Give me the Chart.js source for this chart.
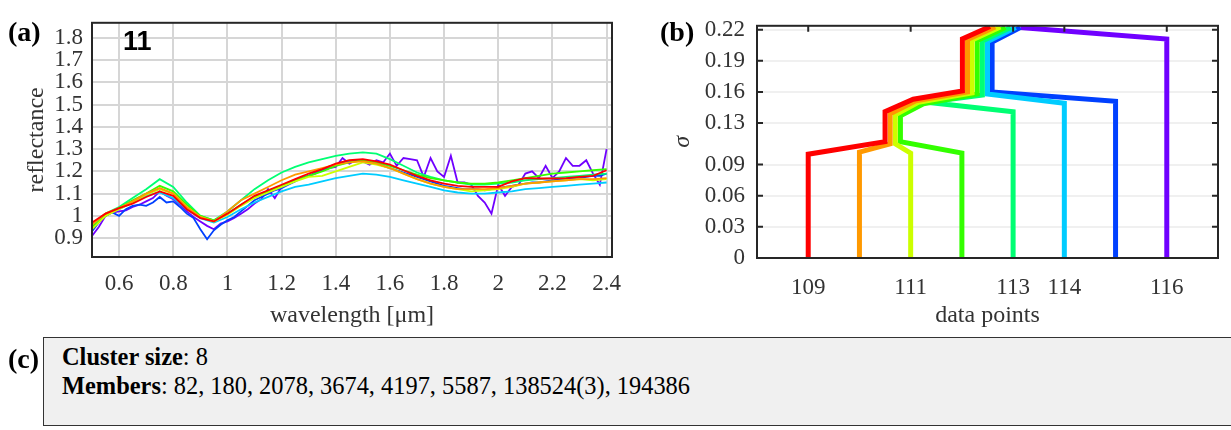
<!DOCTYPE html>
<html>
<head>
<meta charset="utf-8">
<script src="https://cdn.jsdelivr.net/npm/chart.js@4.4.1/dist/chart.umd.min.js"></script>
<style>
  body { margin: 0; background: #fff; width: 1231px; height: 430px; overflow: hidden; position: relative; font-family: "Liberation Serif", "Times New Roman", serif; }
  #wrapA { position: absolute; left: 0; top: 0; }
  #wrapB { position: absolute; left: 640px; top: 0; }
  .tag { position: absolute; font-weight: bold; font-size: 28px; line-height: 28px; color: #000; }
  #cid { position: absolute; left: 123px; top: 26px; font: bold 27px "Liberation Sans", Arial, sans-serif; color: #000; }
  #info { position: absolute; left: 43px; top: 337px; width: 1200px; height: 89px; background: #f0f0f0; border: 1.5px solid #333; box-sizing: border-box; padding: 4px 0 0 18px; font-size: 24.4px; line-height: 29px; color: #000; }
</style>
</head>
<body>
<div id="wrapA"><canvas id="specChart" width="640" height="330"></canvas></div>
<div id="wrapB"><canvas id="treeChart" width="591" height="330"></canvas></div>
<div class="tag" style="left:8px;top:18px">(a)</div>
<div class="tag" style="left:660px;top:18px">(b)</div>
<div class="tag" style="left:8px;top:345px">(c)</div>
<div id="cid"></div>
<div id="info"><div id="line1"></div><div id="line2"></div></div>
<script>
// ---- cluster info ----
const clusterId = 11;
const members = ["82", "180", "2078", "3674", "4197", "5587", "138524(3)", "194386"];

// ---- spectra: wavelength grids (µm) ----
const wl = [0.5, 0.55, 0.6, 0.65, 0.7, 0.75, 0.8, 0.85, 0.9, 0.95, 1.0, 1.05, 1.1, 1.15, 1.2, 1.25, 1.3, 1.35, 1.4, 1.45,
  1.5, 1.55, 1.6, 1.65, 1.7, 1.75, 1.8, 1.85, 1.9, 1.95, 2.0, 2.05, 2.1, 2.15, 2.2, 2.25, 2.3, 2.35, 2.4];
const wlFine = [0.5, 0.525, 0.55, 0.575, 0.6, 0.625, 0.65, 0.675, 0.7, 0.725, 0.75, 0.775, 0.8, 0.825, 0.85, 0.875,
  0.9, 0.925, 0.95, 0.975, 1.0, 1.025, 1.05, 1.075, 1.1, 1.125, 1.15, 1.175, 1.2, 1.225, 1.25, 1.275, 1.3, 1.325,
  1.35, 1.375, 1.4, 1.425, 1.45, 1.475, 1.5, 1.525, 1.55, 1.575, 1.6, 1.625, 1.65, 1.675, 1.7, 1.725, 1.75, 1.775,
  1.8, 1.825, 1.85, 1.875, 1.9, 1.925, 1.95, 1.975, 2.0, 2.025, 2.05, 2.075, 2.1, 2.125, 2.15, 2.175, 2.2, 2.225,
  2.25, 2.275, 2.3, 2.325, 2.35, 2.375, 2.4];

// reflectance of each member (normalised)
const specRed = [0.97, 1.01, 1.035, 1.055, 1.085, 1.11, 1.09, 1.03, 0.99, 0.975, 1.01, 1.05, 1.09, 1.115, 1.14, 1.165, 1.19, 1.21, 1.235, 1.25,
  1.255, 1.245, 1.23, 1.205, 1.18, 1.16, 1.145, 1.135, 1.13, 1.13, 1.13, 1.155, 1.17, 1.168, 1.168, 1.17, 1.175, 1.18, 1.205];
const specOrange = [0.96, 1.01, 1.035, 1.065, 1.1, 1.125, 1.1, 1.04, 0.995, 0.975, 1.02, 1.07, 1.1, 1.13, 1.16, 1.185, 1.2, 1.215, 1.23, 1.24,
  1.245, 1.235, 1.215, 1.19, 1.165, 1.145, 1.13, 1.12, 1.12, 1.12, 1.125, 1.135, 1.145, 1.15, 1.155, 1.16, 1.165, 1.165, 1.17];
const specYellow = [0.94, 1.0, 1.03, 1.06, 1.095, 1.12, 1.1, 1.04, 0.995, 0.975, 1.005, 1.045, 1.08, 1.105, 1.13, 1.155, 1.175, 1.18, 1.2, 1.22,
  1.24, 1.23, 1.215, 1.19, 1.165, 1.145, 1.13, 1.12, 1.11, 1.115, 1.12, 1.13, 1.145, 1.15, 1.155, 1.16, 1.165, 1.16, 1.165];
const specGreen = [0.95, 1.0, 1.035, 1.07, 1.1, 1.135, 1.11, 1.05, 1.0, 0.98, 1.01, 1.05, 1.085, 1.11, 1.135, 1.16, 1.18, 1.2, 1.225, 1.24,
  1.25, 1.24, 1.225, 1.205, 1.185, 1.17, 1.16, 1.15, 1.145, 1.145, 1.15, 1.16, 1.17, 1.18, 1.19, 1.195, 1.2, 1.205, 1.21];
const specMint = [0.96, 1.01, 1.04, 1.08, 1.12, 1.165, 1.13, 1.06, 1.0, 0.98, 1.02, 1.07, 1.12, 1.16, 1.195, 1.22, 1.24, 1.255, 1.27, 1.28,
  1.285, 1.28, 1.255, 1.225, 1.195, 1.175, 1.16, 1.15, 1.14, 1.14, 1.145, 1.15, 1.16, 1.165, 1.17, 1.175, 1.18, 1.185, 1.19];
const specCyan = [0.96, 1.005, 1.03, 1.06, 1.09, 1.105, 1.08, 1.03, 0.99, 0.97, 0.995, 1.03, 1.06, 1.085, 1.11, 1.13, 1.14, 1.155, 1.17, 1.18,
  1.19, 1.185, 1.175, 1.16, 1.145, 1.13, 1.115, 1.105, 1.1, 1.1, 1.105, 1.11, 1.12, 1.125, 1.13, 1.135, 1.14, 1.145, 1.15];
const specBlue = [0.93, 0.97, 1.005, 1.015, 1.0, 1.03, 1.045, 1.05, 1.045, 1.06, 1.085, 1.06, 1.065, 1.04, 1.01, 0.99,
  0.94, 0.895, 0.935, 0.96, 0.98, 0.995, 1.02, 1.045, 1.07, 1.085, 1.1, 1.115, 1.125, 1.14, 1.155, 1.17, 1.18, 1.195,
  1.21, 1.22, 1.23, 1.24, 1.245, 1.25, 1.245, 1.24, 1.235, 1.225, 1.215, 1.205, 1.195, 1.185, 1.175, 1.165, 1.155, 1.145,
  1.135, 1.13, 1.125, 1.12, 1.12, 1.12, 1.115, 1.12, 1.125, 1.13, 1.135, 1.14, 1.145, 1.15, 1.15, 1.155, 1.16, 1.165,
  1.165, 1.17, 1.17, 1.175, 1.18, 1.18, 1.19];
const specPurple = [0.91, 0.95, 1.0, 1.015, 1.02, 1.025, 1.04, 1.05, 1.065, 1.08, 1.11, 1.09, 1.075, 1.05, 1.02, 0.995,
  0.975, 0.955, 0.94, 0.965, 0.975, 0.99, 1.01, 1.03, 1.055, 1.075, 1.12, 1.08, 1.13, 1.15, 1.16, 1.17, 1.18, 1.19,
  1.205, 1.215, 1.22, 1.26, 1.235, 1.25, 1.245, 1.23, 1.25, 1.24, 1.28, 1.225, 1.26, 1.255, 1.25, 1.175, 1.26, 1.2,
  1.175, 1.27, 1.15, 1.15, 1.14, 1.09, 1.06, 1.01, 1.14, 1.09, 1.13, 1.14, 1.19, 1.2, 1.17, 1.225, 1.17, 1.2,
  1.26, 1.225, 1.225, 1.25, 1.19, 1.14, 1.3];

const xTicksA = [0.6, 0.8, 1, 1.2, 1.4, 1.6, 1.8, 2, 2.2, 2.4];
const yTicksA = [0.9, 1, 1.1, 1.2, 1.3, 1.4, 1.5, 1.6, 1.7, 1.8];

// ---- dendrogram: path of every leaf up to the root, as [data point, sigma] ----
const leafRed = [[109, 0], [109, 0.100], [110.50, 0.112], [110.50, 0.141], [111.05, 0.153], [112.01, 0.161], [112.01, 0.211], [112.55, 0.223]];
const leafOrange = [[110, 0], [110, 0.102], [110.60, 0.110], [110.60, 0.139], [111.10, 0.1515], [112.11, 0.160], [112.11, 0.2105], [112.65, 0.2225]];
const leafYellow = [[111, 0], [111, 0.101], [110.70, 0.110], [110.70, 0.138], [111.15, 0.150], [112.20, 0.159], [112.20, 0.210], [112.75, 0.2225]];
const leafGreen = [[112, 0], [112, 0.101], [110.80, 0.112], [110.80, 0.137], [111.25, 0.1485], [112.30, 0.158], [112.30, 0.2095], [112.85, 0.222]];
const leafMint = [[113, 0], [113, 0.141], [111.32, 0.150], [112.40, 0.157], [112.40, 0.209], [112.95, 0.222]];
const leafCyan = [[114, 0], [114, 0.149], [112.50, 0.158], [112.50, 0.2085], [113.05, 0.222]];
const leafBlue = [[115, 0], [115, 0.151], [112.59, 0.160], [112.59, 0.208], [113.14, 0.222]];
const leafPurple = [[116, 0], [116, 0.211], [113.14, 0.222]];

const xTicksB = [109, 111, 113, 114, 116];
const yTicksB = [0, 0.03, 0.06, 0.09, 0.13, 0.16, 0.19, 0.22];

const colors = {
  red: "#ff0000", orange: "#ff9900", yellow: "#ccff00", green: "#33ff00",
  mint: "#00ff73", cyan: "#00ccff", blue: "#0040ff", purple: "#7000ff"
};

const serif = "'Liberation Serif', 'Times New Roman', serif";
const inkColor = "#333";

document.getElementById("cid").textContent = clusterId;
document.getElementById("line1").innerHTML = "<b>Cluster size</b>: " + members.length;
document.getElementById("line2").innerHTML = "<b>Members</b>: " + members.join(", ");

// box round the plot area, plus MATLAB style inward ticks
function frameBox(inTicks) {
  return {
    id: "frameBox",
    afterDraw(chart) {
      const { ctx, chartArea: a, scales } = chart;
      ctx.save();
      ctx.strokeStyle = "#262626";
      ctx.lineWidth = 2;
      if (inTicks) {
        ctx.beginPath();
        scales.y.ticks.forEach(t => {
          const py = scales.y.getPixelForValue(t.value);
          ctx.moveTo(a.left, py); ctx.lineTo(a.left + 6, py);
          ctx.moveTo(a.right, py); ctx.lineTo(a.right - 6, py);
        });
        scales.x.ticks.forEach(t => {
          const px = scales.x.getPixelForValue(t.value);
          ctx.moveTo(px, a.top); ctx.lineTo(px, a.top + 6);
        });
        ctx.stroke();
      }
      ctx.strokeRect(a.left, a.top, a.right - a.left, a.bottom - a.top);
      ctx.restore();
    }
  };
}

function toPoints(xs, ys) {
  return xs.map((x, i) => ({ x: x, y: ys[i] }));
}

// ---- (a) spectra ----
const spectra = [
  { data: toPoints(wl, specRed), c: colors.red },
  { data: toPoints(wl, specOrange), c: colors.orange },
  { data: toPoints(wl, specYellow), c: colors.yellow },
  { data: toPoints(wl, specGreen), c: colors.green },
  { data: toPoints(wl, specMint), c: colors.mint },
  { data: toPoints(wl, specCyan), c: colors.cyan },
  { data: toPoints(wlFine, specBlue), c: colors.blue },
  { data: toPoints(wlFine, specPurple), c: colors.purple }
];

new Chart(document.getElementById("specChart").getContext("2d"), {
  type: "line",
  data: {
    datasets: spectra.map(s => ({
      data: s.data,
      borderColor: s.c,
      borderWidth: 1.8,
      pointRadius: 0,
      tension: 0,
      fill: false
    }))
  },
  options: {
    responsive: false,
    animation: false,
    layout: { padding: { left: 0, right: 28, top: 7, bottom: 0 } },
    plugins: { legend: { display: false }, tooltip: { enabled: false } },
    scales: {
      x: {
        type: "linear",
        min: 0.5,
        max: 2.42,
        afterBuildTicks: s => { s.ticks = xTicksA.map(v => ({ value: v })); },
        afterFit: s => { s.height = 73; },
        grid: { color: "#d6d6d6", lineWidth: 2, drawTicks: false },
        border: { display: false },
        ticks: { font: { family: serif, size: 23 }, color: inkColor, padding: 13, maxRotation: 0, autoSkip: false, callback: v => String(v) },
        title: { display: true, text: "wavelength [μm]", font: { family: serif, size: 24 }, color: inkColor, padding: { top: 4, bottom: 0 } }
      },
      y: {
        min: 0.815,
        max: 1.868,
        afterBuildTicks: s => { s.ticks = yTicksA.map(v => ({ value: v })); },
        afterFit: s => { s.width = 92; },
        grid: { color: "#d6d6d6", lineWidth: 2, drawTicks: false },
        border: { display: false },
        ticks: { font: { family: serif, size: 23 }, color: inkColor, padding: 9, autoSkip: false, callback: v => String(v) },
        title: { display: true, text: "reflectance", font: { family: serif, size: 24 }, color: inkColor, padding: { top: 22, bottom: 0 } }
      }
    }
  },
  plugins: [frameBox(false)]
});

// ---- (b) dendrogram ----
const leaves = [
  { path: leafRed, c: colors.red },
  { path: leafOrange, c: colors.orange },
  { path: leafYellow, c: colors.yellow },
  { path: leafGreen, c: colors.green },
  { path: leafMint, c: colors.mint },
  { path: leafCyan, c: colors.cyan },
  { path: leafBlue, c: colors.blue },
  { path: leafPurple, c: colors.purple }
];

new Chart(document.getElementById("treeChart").getContext("2d"), {
  type: "scatter",
  data: {
    datasets: leaves.map(l => ({
      data: l.path.map(p => ({ x: p[0], y: p[1] })),
      borderColor: l.c,
      borderWidth: 5,
      borderJoinStyle: "miter",
      showLine: true,
      pointRadius: 0,
      tension: 0
    }))
  },
  options: {
    responsive: false,
    animation: false,
    layout: { padding: { left: 0, right: 13, top: 14, bottom: 0 } },
    plugins: { legend: { display: false }, tooltip: { enabled: false } },
    scales: {
      x: {
        type: "linear",
        min: 108,
        max: 117,
        afterBuildTicks: s => { s.ticks = xTicksB.map(v => ({ value: v })); },
        afterFit: s => { s.height = 72; },
        grid: { display: false, drawTicks: false },
        border: { display: false },
        ticks: { font: { family: serif, size: 23 }, color: inkColor, padding: 16, autoSkip: false, callback: v => String(v) },
        title: { display: true, text: "data points", font: { family: serif, size: 24 }, color: inkColor, padding: { top: 4, bottom: 0 } }
      },
      y: {
        min: 0,
        max: 0.2237,
        afterBuildTicks: s => { s.ticks = yTicksB.map(v => ({ value: v })); },
        afterFit: s => { s.width = 117; },
        grid: { color: "#f0f0f0", lineWidth: 2, drawTicks: false },
        border: { display: false },
        ticks: { font: { family: serif, size: 23 }, color: inkColor, padding: 12, autoSkip: false, callback: v => String(v) },
        title: { display: true, text: "σ", font: { family: serif, size: 24, style: "italic" }, color: inkColor, padding: { top: 28, bottom: 0 } }
      }
    }
  },
  plugins: [frameBox(true)]
});
</script>
</body>
</html>
